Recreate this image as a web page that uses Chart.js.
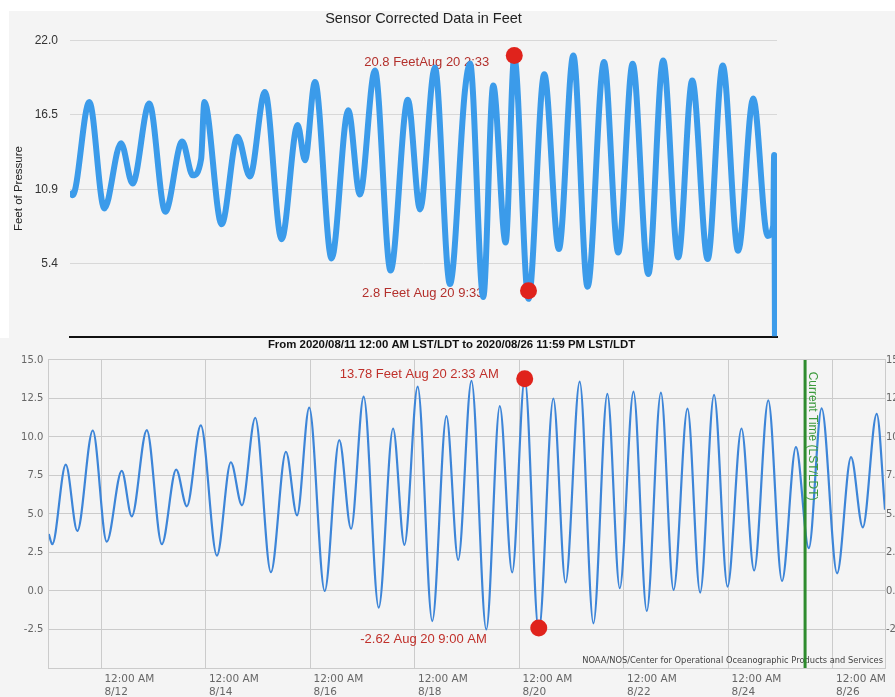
<!DOCTYPE html>
<html>
<head>
<meta charset="utf-8">
<title>Sensor Corrected Data in Feet</title>
<script src="https://cdn.jsdelivr.net/npm/chart.js@4.4.1/dist/chart.umd.min.js"></script>
<style>
  html, body { margin: 0; padding: 0; }
  body { width: 895px; height: 697px; background: #f4f4f4; position: relative; overflow: hidden; }
  #topMargin { position: absolute; left: 0; top: 0; width: 895px; height: 11px; background: #fff; }
  #leftMargin { position: absolute; left: 0; top: 0; width: 9px; height: 338px; background: #fff; }
  #sensorChart { position: absolute; left: 0; top: 0; z-index: 2; }
  #tideChart { position: absolute; left: 0; top: 338px; z-index: 1; }
</style>
</head>
<body>
<div id="topMargin"></div>
<div id="leftMargin"></div>
<canvas id="sensorChart" width="895" height="345"></canvas>
<canvas id="tideChart" width="895" height="359"></canvas>
<script>
// ---------- DATA ----------

// sensor chart: hours since 2020/08/11 12:00 AM, highs and lows in feet
const topHours = [0, 1.3, 9.5, 16.9, 25.1, 30.8, 39.0, 46.9, 55.2, 60.4, 64.5, 66.1, 74.6, 82.4, 88.5,
  95.9, 104.1, 112.0, 115.6, 120.5, 128.7, 136.9, 142.6, 150.0, 157.7, 166.2, 172.2, 179.5, 186.9, 194.3,
  196.8, 203.3, 208.2, 214.3, 218.55, 225.55, 233.3, 240.5, 247.6, 254.6, 262.7, 269.7, 276.8, 284.5, 291.8,
  299.2, 306.1, 313.7, 321.1, 328.7, 336.1, 343.2, 345.9, 346.4, 346.8];
const topFeet = [10.8, 10.5, 17.44, 9.52, 14.37, 11.37, 17.32, 9.28, 14.49, 11.98, 13.2, 17.44, 8.34, 14.86, 11.9,
  18.18, 7.23, 15.72, 13.1, 18.93, 5.8, 16.83, 10.55, 19.78, 4.9, 17.6, 9.45, 20.0, 3.9, 18.3,
  20.3, 2.93, 18.67, 6.99, 20.8, 2.8, 19.5, 6.5, 20.9, 3.7, 20.4, 6.25, 20.27, 4.65, 20.52,
  5.88, 19.04, 5.76, 20.15, 6.37, 17.69, 7.48, 8.2, 13.5, 0];
const topTicks = [5.4, 10.9, 16.5, 22.0];
const topMarkerHours = [218.55, 225.55];
const topMarkerFeet = [20.9, 3.4];
const topMarkerLabels = ['20.8 FeetAug 20 2:33', '2.8 Feet Aug 20 9:33'];

// predicted tide chart
const bottomHours = [0, 1.6, 7.8, 13.1, 20.2, 26.6, 33.5, 38.1, 45.0, 51.9, 58.5, 63.4, 69.8, 77.2, 83.6,
  88.7, 94.8, 102.0, 108.9, 114.0, 119.6, 126.7, 133.4, 138.8, 144.6, 151.5, 158.1, 163.3, 169.4, 176.1,
  182.6, 188.0, 194.1, 200.9, 207.1, 212.8, 218.55, 225.0, 231.7, 237.3, 243.8, 250.1, 256.5, 262.2, 268.5,
  274.6, 281.1, 286.9, 293.3, 299.1, 305.5, 311.7, 318.1, 323.9, 330.4, 336.7, 343.1, 349.0, 354.9, 362.0,
  368.4, 373.8, 380.2, 384];
const bottomFeet = [3.7, 3.04, 8.2, 3.9, 10.42, 3.2, 7.8, 4.85, 10.45, 3.04, 7.88, 5.5, 10.75, 2.3, 8.36,
  5.56, 11.25, 1.22, 9.04, 4.91, 11.9, 0.0, 9.8, 4.04, 12.62, -1.08, 10.55, 3.0, 13.27, -1.95,
  11.36, 2.02, 13.64, -2.5, 12.0, 1.2, 13.78, -2.62, 12.5, 0.55, 13.6, -2.1, 12.8, 0.18, 12.95,
  -1.3, 12.88, 0.07, 11.84, -0.1, 12.73, 0.29, 10.55, 1.33, 12.38, 0.65, 9.34, 2.78, 11.86, 1.15,
  8.69, 4.13, 11.5, 5.28];
const bottomTickHours = [24, 72, 120, 168, 216, 264, 312, 360];
const bottomTickDates = ['8/12', '8/14', '8/16', '8/18', '8/20', '8/22', '8/24', '8/26'];
const bottomMarkerHours = [218.55, 225.0];
const bottomMarkerFeet = [13.78, -2.4];
const bottomMarkerLabels = ['13.78 Feet Aug 20 2:33 AM', '-2.62 Aug 20 9:00 AM'];
const currentHour = 347.3;

function toPoints(xs, ys) {
    return xs.map((x, i) => ({ x: x, y: ys[i] }));
}

// ---------- PLUGINS ----------

// red note beside each highlighted point (dataset 0 holds the red dots)
const markerTextPlugin = {
    id: 'markerText',
    beforeDatasetsDraw(chart, args, opts) {
        const meta = chart.getDatasetMeta(0);
        const ctx = chart.ctx;
        ctx.save();
        ctx.font = opts.font;
        ctx.fillStyle = opts.color;
        ctx.textAlign = 'right';
        ctx.textBaseline = 'middle';
        opts.labels.forEach((txt, i) => {
            const pt = meta.data[i];
            ctx.fillText(txt, pt.x + opts.offsets[i][0], pt.y + opts.offsets[i][1]);
        });
        ctx.restore();
    }
};

// green "current time" line plus the credit line
const currentTimePlugin = {
    id: 'currentTime',
    afterDatasetsDraw(chart, args, opts) {
        const { ctx, chartArea } = chart;
        const x = chart.scales.x.getPixelForValue(opts.hour);
        ctx.save();
        ctx.font = '8.3px "DejaVu Sans"';
        ctx.fillStyle = '#444';
        ctx.textAlign = 'right';
        ctx.textBaseline = 'middle';
        ctx.fillText(opts.credit, chartArea.right - 2, chartArea.bottom - 7);

        ctx.strokeStyle = '#2e8b2e';
        ctx.lineWidth = 3;
        ctx.beginPath();
        ctx.moveTo(x, chartArea.top);
        ctx.lineTo(x, chartArea.bottom);
        ctx.stroke();

        ctx.translate(x + 7.5, chartArea.top + 11.7);
        ctx.rotate(Math.PI / 2);
        ctx.font = '12px "Liberation Sans"';
        ctx.fillStyle = '#3c9a3c';
        ctx.textAlign = 'left';
        ctx.fillText(opts.text, 0, 0);
        ctx.restore();
    }
};

// ---------- SENSOR CHART ----------
var sensorChart = new Chart(document.getElementById('sensorChart'), {
    type: 'line',
    data: {
        datasets: [{
            data: toPoints(topMarkerHours, topMarkerFeet),
            showLine: false,
            pointRadius: 8.5,
            pointBackgroundColor: '#e0231c',
            pointBorderWidth: 0,
            clip: false
        }, {
            data: toPoints(topHours, topFeet),
            borderColor: '#3b9bea',
            borderWidth: 6,
            borderJoinStyle: 'round',
            pointRadius: 0,
            cubicInterpolationMode: 'monotone',
            fill: false
        }]
    },
    options: {
        responsive: false,
        animation: false,
        layout: { padding: { left: 0, right: 118, top: 0, bottom: 0 } },
        plugins: {
            legend: { display: false },
            tooltip: { enabled: false },
            title: {
                display: true,
                text: 'Sensor Corrected Data in Feet',
                fullSize: false,
                color: '#222',
                font: { family: 'Liberation Sans', size: 14.5, weight: 'normal' },
                padding: { top: 10, bottom: 13.2 }
            },
            markerText: {
                labels: topMarkerLabels,
                offsets: [[-25, 7], [-45, 3]],
                font: '13px "Liberation Sans"',
                color: '#b3302c'
            }
        },
        scales: {
            x: {
                type: 'linear',
                min: 0,
                max: 347.8,
                ticks: { display: false },
                grid: { display: false },
                border: { display: true, color: '#111', width: 2 },
                afterFit: (axis) => { axis.height = 7; }
            },
            y: {
                min: 0,
                max: 22,
                afterBuildTicks: (axis) => { axis.ticks = topTicks.map(v => ({ value: v })); },
                ticks: {
                    callback: (v) => v.toFixed(1),
                    color: '#333',
                    font: { family: 'Liberation Sans', size: 12 },
                    padding: 12
                },
                grid: { color: '#d8d8d8', drawTicks: false },
                border: { display: false },
                title: {
                    display: true,
                    text: 'Feet of Pressure',
                    color: '#222',
                    font: { family: 'Liberation Sans', size: 11.5 },
                    padding: { top: 12.1, bottom: 0 }
                },
                afterFit: (axis) => {
                    axis.width = 70;
                    axis.paddingTop = 0;
                    axis.paddingBottom = 0;
                }
            }
        }
    },
    plugins: [markerTextPlugin]
});

// ---------- TIDE CHART ----------
const gridGrey = '#cbcbcb';
const tickFont = { family: 'DejaVu Sans', size: 10 };

var tideChart = new Chart(document.getElementById('tideChart'), {
    type: 'line',
    data: {
        datasets: [{
            data: toPoints(bottomMarkerHours, bottomMarkerFeet),
            showLine: false,
            pointRadius: 8.5,
            pointBackgroundColor: '#e0231c',
            pointBorderWidth: 0,
            clip: false
        }, {
            data: toPoints(bottomHours, bottomFeet),
            borderColor: '#3d85d8',
            borderWidth: 2.2,
            pointRadius: 0,
            cubicInterpolationMode: 'monotone',
            fill: false
        }]
    },
    options: {
        responsive: false,
        animation: false,
        layout: { padding: { left: 8, right: 0, top: 0, bottom: 0 } },
        plugins: {
            legend: { display: false },
            tooltip: { enabled: false },
            title: {
                display: true,
                text: 'From 2020/08/11 12:00 AM LST/LDT to 2020/08/26 11:59 PM LST/LDT',
                color: '#111',
                font: { family: 'Liberation Sans', size: 11.4, weight: 'bold' },
                padding: { top: 0, bottom: 8.3 }
            },
            markerText: {
                labels: bottomMarkerLabels,
                offsets: [[-26, -4], [-52, 11.5]],
                font: '13px "Liberation Sans"',
                color: '#c0302a'
            },
            currentTime: {
                hour: currentHour,
                text: 'Current Time (LST/LDT)',
                credit: 'NOAA/NOS/Center for Operational Oceanographic Products and Services'
            }
        },
        scales: {
            x: {
                type: 'linear',
                min: 0,
                max: 384,
                afterBuildTicks: (axis) => { axis.ticks = bottomTickHours.map(v => ({ value: v })); },
                ticks: {
                    autoSkip: false,
                    maxRotation: 0,
                    align: 'start',
                    padding: 5,
                    color: '#666',
                    font: { family: 'DejaVu Sans', size: 10.5 },
                    callback: (v) => [' 12:00 AM', ' ' + bottomTickDates[bottomTickHours.indexOf(v)]]
                },
                grid: { color: gridGrey, drawTicks: false },
                border: { display: true, color: gridGrey },
                afterFit: (axis) => { axis.height = 29; }
            },
            y: {
                position: 'left',
                min: -5,
                max: 15,
                ticks: {
                    stepSize: 2.5,
                    color: '#666',
                    font: tickFont,
                    padding: 5.5,
                    callback: (v) => v === -5 ? '' : v.toFixed(1)
                },
                grid: { color: gridGrey, drawTicks: false },
                border: { display: true, color: gridGrey },
                afterFit: (axis) => { axis.width = 40.8; }
            },
            y2: {
                position: 'right',
                min: -5,
                max: 15,
                ticks: {
                    stepSize: 2.5,
                    color: '#666',
                    font: tickFont,
                    padding: -7,
                    callback: (v) => v === -5 ? '' : v.toFixed(1)
                },
                grid: { display: false },
                border: { display: true, color: gridGrey },
                afterFit: (axis) => { axis.width = 10; }
            }
        }
    },
    plugins: [markerTextPlugin, currentTimePlugin]
});
</script>
</body>
</html>
